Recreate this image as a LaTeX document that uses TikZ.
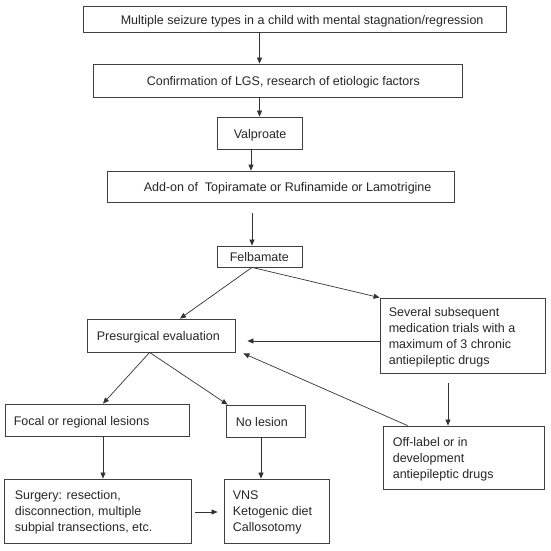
\documentclass[tikz,border=0pt]{standalone}
\usepackage{fontspec}
\setmainfont{Liberation Sans}
\usetikzlibrary{arrows.meta,calc}
\begin{document}
\begin{tikzpicture}[x=1pt,y=-1pt,
  box/.style={draw=black!75, line width=0.8pt, inner sep=0pt},
  txt/.style={inner sep=0pt, text=black!85, font=\fontsize{12.5pt}{16pt}\selectfont, align=left, anchor=west},
  one/.style={text height=10pt, text depth=0pt},
  multi/.style={yshift=-1.5pt},
  arr/.style={draw=black!80, line width=0.7pt, -{Triangle[length=6pt,width=5pt]}}]
\useasboundingbox (0,0) rectangle (551,550);
% boxes
\node[box, minimum width=423pt, minimum height=26pt] (b1) at (294.5,19) {};
\node[box, minimum width=369pt, minimum height=33pt] (b2) at (277.5,80.5) {};
\node[box, minimum width=85pt, minimum height=32pt] (val) at (259.5,133) {};
\node[box, minimum width=347pt, minimum height=31pt] (add) at (280.5,186.5) {};
\node[box, minimum width=85pt, minimum height=21pt] (felb) at (259.5,256.5) {};
\node[box, minimum width=148pt, minimum height=33pt] (pre) at (161,335.5) {};
\node[box, minimum width=165pt, minimum height=75pt] (sev) at (462.5,335.5) {};
\node[box, minimum width=161pt, minimum height=63pt] (off) at (463.5,457.5) {};
\node[box, minimum width=184pt, minimum height=32pt] (foc) at (97,420) {};
\node[box, minimum width=79pt, minimum height=32pt] (nol) at (265.5,421) {};
\node[box, minimum width=187pt, minimum height=64pt] (sur) at (97.5,511) {};
\node[box, minimum width=105pt, minimum height=64pt] (vns) at (276.5,511) {};
% texts
\node[txt, one] (t1) at ($(b1.west)+(38,0)$) {Multiple seizure types in a child with mental stagnation/regression};
\node[txt, one] (t2) at ($(b2.west)+(54,0)$) {Confirmation of LGS, research of etiologic factors};
\node[txt, one] (t3) at ($(val.west)+(17,0)$) {Valproate};
\node[txt, one] (t4) at ($(add.west)+(37,0)$) {Add-on of\ \ Topiramate or Rufinamide or Lamotrigine};
\node[txt, one] (t5) at ($(felb.west)+(13,0)$) {Felbamate};
\node[txt, one] (t6) at ($(pre.west)+(10,0)$) {Presurgical evaluation};
\node[txt, multi] (t7) at ($(sev.west)+(9,0)$) {Several subsequent\\medication trials with a\\maximum of 3 chronic\\antiepileptic drugs};
\node[txt, multi] (t8) at ($(off.west)+(10,0)$) {Off-label or in\\development\\antiepileptic drugs};
\node[txt, one] (t9) at ($(foc.west)+(9,0)$) {Focal or regional lesions};
\node[txt, one] (t10) at ($(nol.west)+(10,0)$) {No lesion};
\node[txt, multi] (t11) at ($(sur.west)+(11,0)$) {Surgery: resection,\\disconnection, multiple\\subpial transections, etc.};
\node[txt, multi] (t12) at ($(vns.west)+(9,0)$) {VNS\\Ketogenic diet\\Callosotomy};
% connectors
\draw[arr] (b1.south -| val.north) -- (b2.north -| val.north);
\draw[arr] (b2.south -| val.north) -- (val.north);
\draw[arr] ($(val.south)+(-8.5,0)$) -- ($(val.south |- add.north)+(-8.5,0)$);
\draw[arr] ($(felb.north |- add.south)+(-7.5,11)$) -- ($(felb.north)+(-7.5,0)$);
\draw[arr] ($(felb.south)+(-7.5,0)$) -- ($(pre.north)+(19,0)$);
\draw[arr] ($(felb.south)+(-7.5,0)$) -- (sev.north west);
\draw[arr] ($(sev.west)+(0,5.5)$) -- ($(pre.east |- sev.west)+(12,5.5)$);
\draw[arr] ($(off.north west)+(25,0)$) -- ($(pre.south east)+(8,1)$);
\draw[arr] ($(sev.south)+(-14.5,10)$) -- ($(sev.south |- off.north)+(-14.5,0)$);
\draw[arr] ($(pre.south west)+(63,0)$) -- ($(foc.north)+(6,0)$);
\draw[arr] ($(pre.south west)+(63,0)$) -- ($(nol.north west)+(2,0)$);
\draw[arr] ($(foc.south)+(6,0)$) -- ($(foc.south |- sur.north)+(6,0)$);
\draw[arr] ($(nol.south)+(-4.5,0)$) -- ($(nol.south |- vns.north)+(-4.5,0)$);
\draw[arr] ($(sur.east)+(4,1)$) -- ($(vns.west)+(-6,1)$);
\end{tikzpicture}
\end{document}
